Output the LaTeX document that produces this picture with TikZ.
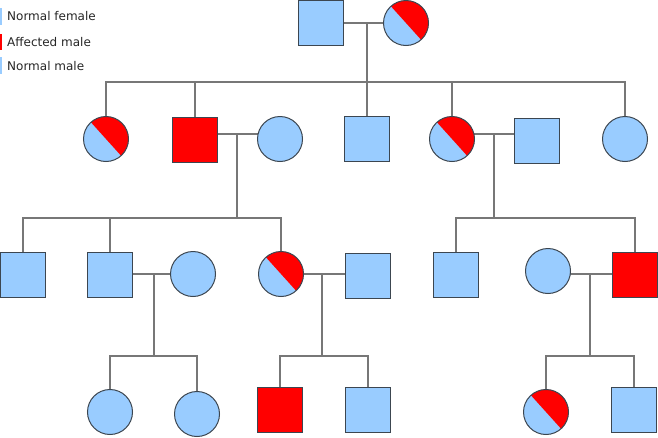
\documentclass[tikz,border=0pt]{standalone}
\usepackage{fontspec}
\setmainfont{DejaVu Sans}
\usetikzlibrary{backgrounds}
\definecolor{nblue}{HTML}{99CCFF}
\definecolor{aff}{HTML}{FF0000}
\definecolor{edge}{HTML}{3C4650}
\definecolor{link}{HTML}{777777}
\tikzset{
  sq/.style={draw=edge, line width=1pt, fill=nblue, minimum size=45pt, inner sep=0pt, rectangle},
  affsq/.style={sq, fill=aff},
  ci/.style={draw=edge, line width=1pt, fill=nblue, minimum size=45pt, inner sep=0pt, circle},
  carrier/.style={ci, path picture={
     \fill[aff] (path picture bounding box.center) ++(132:40pt) -- ++(-48:80pt)
        -- ++(42:40pt) -- ++(132:80pt) -- cycle;}},
  lnk/.style={draw=link, line width=1.1pt},
  leg/.style={anchor=west, inner sep=0pt, font=\fontsize{12}{14}\selectfont, text=black!85}
}
\begin{document}
\begin{tikzpicture}[x=1pt,y=1pt]
\useasboundingbox (0,0) rectangle (658,-437);
% legend
\fill[nblue] (0,-8) rectangle (2,-25);
\fill[aff] (0,-34) rectangle (2,-50);
\fill[nblue] (0,-57) rectangle (2,-74);
\node[leg] (l1) at (7,-16) {Normal female};
\node[leg] (l2) at (7,-42) {Affected male};
\node[leg] (l3) at (7,-66) {Normal male};
% generation I
\node[sq] (I1) at (321,-23) {};
\node[carrier] (I2) at (406,-23) {};
% generation II
\node[carrier] (II1) at (106,-139) {};
\node[affsq] (II2) at (195,-140) {};
\node[ci] (II3) at (280,-139) {};
\node[sq] (II4) at (367,-139) {};
\node[carrier] (II5) at (452,-139) {};
\node[sq] (II6) at (537,-141) {};
\node[ci] (II7) at (625,-139) {};
% generation III
\node[sq] (III1) at (23,-275) {};
\node[sq] (III2) at (110,-275) {};
\node[ci] (III3) at (193,-274) {};
\node[carrier] (III4) at (281,-274) {};
\node[sq] (III5) at (368,-276) {};
\node[sq] (III6) at (456,-275) {};
\node[ci] (III7) at (548,-271) {};
\node[affsq] (III8) at (635,-275) {};
% generation IV
\node[ci] (IV1) at (110,-412) {};
\node[ci] (IV2) at (197,-414) {};
\node[affsq] (IV3) at (280,-410) {};
\node[sq] (IV4) at (368,-410) {};
\node[carrier] (IV5) at (546,-412) {};
\node[sq] (IV6) at (634,-410) {};
% marriage points and sibling bars
\coordinate (m1) at (367,-23);  \coordinate (s1) at (367,-82);
\coordinate (m2) at (237,-134); \coordinate (s2) at (237,-218);
\coordinate (m3) at (494,-134); \coordinate (s3) at (494,-218);
\coordinate (m4) at (154,-274); \coordinate (s4) at (154,-356);
\coordinate (m5) at (322,-274); \coordinate (s5) at (322,-356);
\coordinate (m6) at (590,-274); \coordinate (s6) at (590,-356);
\begin{scope}[on background layer]
  % gen I
  \draw[lnk] (I1.center |- m1) -- (I2.center |- m1);
  \draw[lnk] (m1) -- (s1);
  \foreach \c in {II1,II2,II4,II5,II7} \draw[lnk] (\c) |- (s1);
  % gen II
  \draw[lnk] (II2.center |- m2) -- (II3.center |- m2);
  \draw[lnk] (m2) -- (s2);
  \foreach \c in {III1,III2,III4} \draw[lnk] (\c) |- (s2);
  \draw[lnk] (II5.center |- m3) -- (II6.center |- m3);
  \draw[lnk] (m3) -- (s3);
  \foreach \c in {III6,III8} \draw[lnk] (\c) |- (s3);
  % gen III
  \draw[lnk] (III2.center |- m4) -- (III3.center |- m4);
  \draw[lnk] (m4) -- (s4);
  \foreach \c in {IV1,IV2} \draw[lnk] (\c) |- (s4);
  \draw[lnk] (III4.center |- m5) -- (III5.center |- m5);
  \draw[lnk] (m5) -- (s5);
  \foreach \c in {IV3,IV4} \draw[lnk] (\c) |- (s5);
  \draw[lnk] (III7.center |- m6) -- (III8.center |- m6);
  \draw[lnk] (m6) -- (s6);
  \foreach \c in {IV5,IV6} \draw[lnk] (\c) |- (s6);
\end{scope}
\end{tikzpicture}
\end{document}
